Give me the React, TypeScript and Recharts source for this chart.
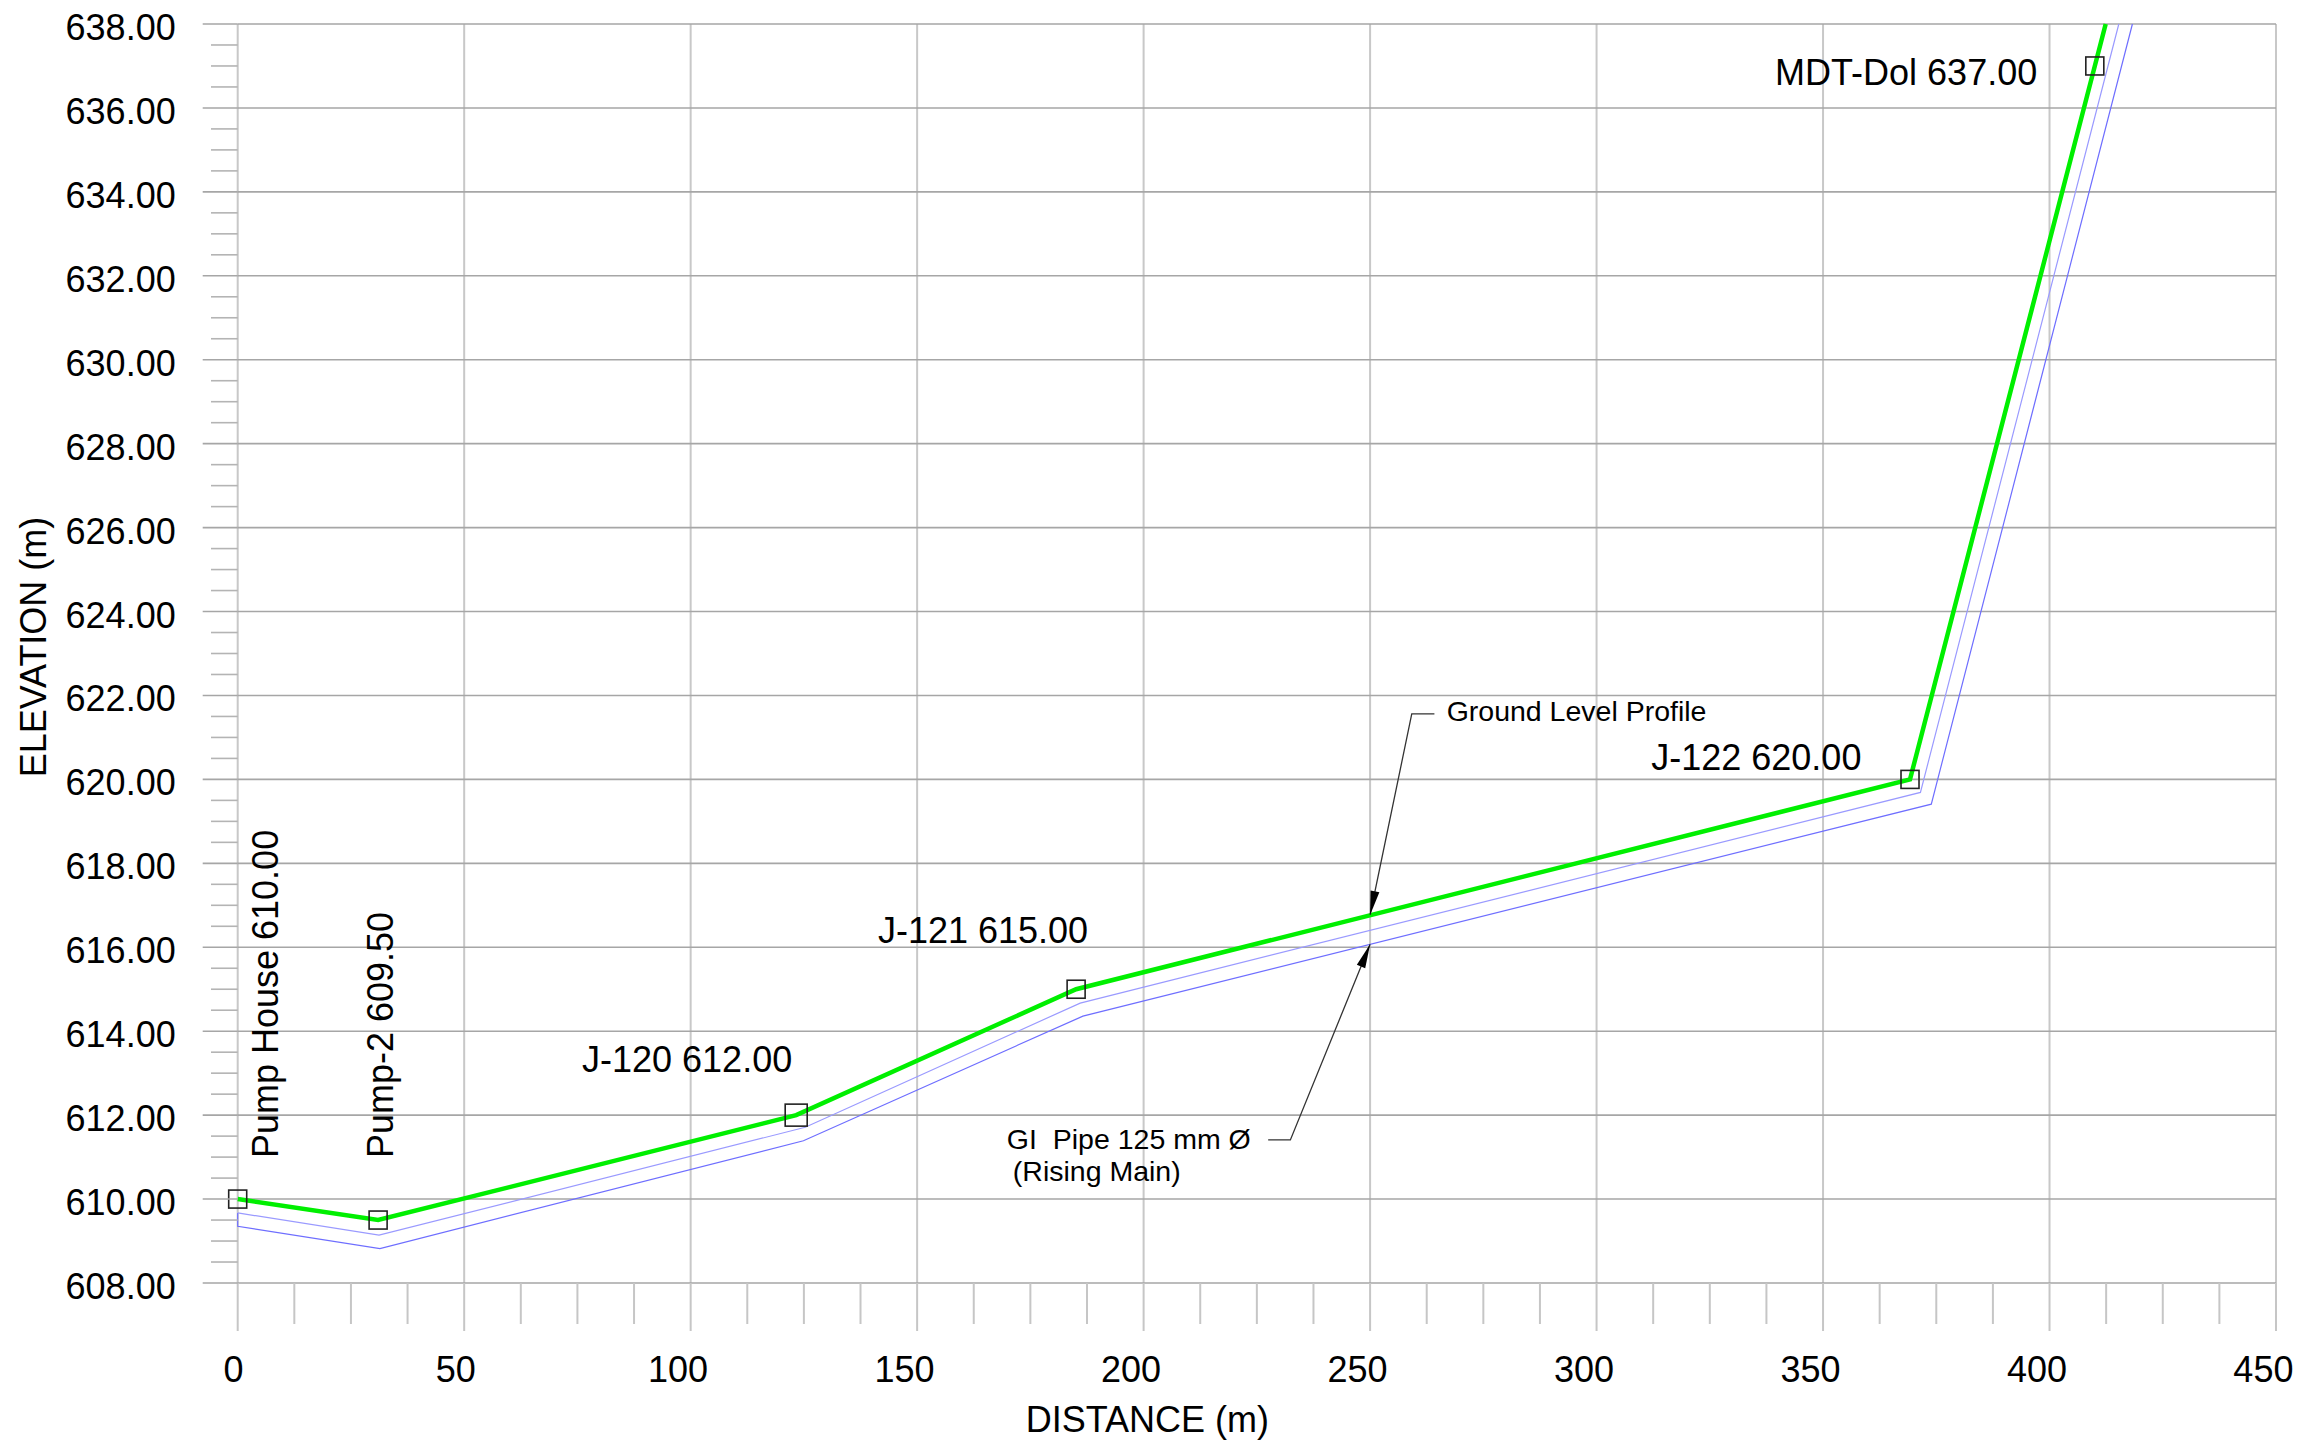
import React from 'react';
import {
  ComposedChart,
  Line,
  XAxis,
  YAxis,
  ReferenceLine,
  Scatter,
  ReferenceDot,
} from 'recharts';

const FONT = '"Liberation Sans", Arial, Helvetica, sans-serif';

// ---------- data ----------
const nodeNames = ['Pump House', 'Pump-2', 'J-120', 'J-121', 'J-122', 'MDT-Dol'];
const nodeDistances = [0, 31, 123.3, 185.1, 369.2, 410.0];
const nodeElevations = [610.0, 609.5, 612.0, 615.0, 620.0, 637.0];

// ground level profile (green), continues past the last node to the top of the chart
const groundDistances = [0, 31, 123.3, 185.1, 369.2, 410.0, 412.4];
const groundElevations = [610.0, 609.5, 612.0, 615.0, 620.0, 637.0, 638.0];

// GI pipe lines (blue)
const pipeTopDistances = [0, 31.2, 125.3, 186.0, 371.5, 415.3];
const pipeTopElevations = [609.67, 609.14, 611.71, 614.67, 619.69, 638.0];
const pipeBottomDistances = [0, 0, 31.4, 124.9, 186.6, 373.9, 418.3];
const pipeBottomElevations = [609.67, 609.35, 608.82, 611.39, 614.36, 619.41, 638.0];

// annotation leaders
const groundLeaderDistances = [264.2, 259.2, 250];
const groundLeaderElevations = [621.56, 621.56, 616.77];
const pipeLeaderDistances = [227.5, 232.4, 250];
const pipeLeaderElevations = [611.41, 611.41, 616.07];

const groundNote = 'Ground Level Profile';
const pipeNoteLines = ['GI  Pipe 125 mm Ø', '(Rising Main)'];

// ticks
const xMajorTicks = [0, 50, 100, 150, 200, 250, 300, 350, 400, 450];
const yMajorTicks = [608, 610, 612, 614, 616, 618, 620, 622, 624, 626, 628, 630, 632, 634, 636, 638];
const xMinorPerMajor = 4;
const yMinorPerMajor = 4;

const xTitle = 'DISTANCE (m)';
const yTitle = 'ELEVATION (m)';

// ---------- derived tables ----------
const toPoints = (xs: number[], ys: number[]) => xs.map((x, i) => ({ x, y: ys[i] }));
const groundData = toPoints(groundDistances, groundElevations);
const pipeTopData = toPoints(pipeTopDistances, pipeTopElevations);
const pipeBottomData = toPoints(pipeBottomDistances, pipeBottomElevations);
const groundLeaderData = toPoints(groundLeaderDistances, groundLeaderElevations);
const pipeLeaderData = toPoints(pipeLeaderDistances, pipeLeaderElevations);
const nodeData = nodeNames.map((name, i) => ({ i, name, x: nodeDistances[i], y: nodeElevations[i] }));

const subdivide = (majors: number[], n: number) => {
  const out: number[] = [];
  for (let k = 0; k < majors.length - 1; k++) {
    const a = majors[k];
    const b = majors[k + 1];
    for (let j = 0; j < n; j++) out.push(a + ((b - a) * j) / n);
  }
  out.push(majors[majors.length - 1]);
  return out;
};
const xAllTicks = subdivide(xMajorTicks, xMinorPerMajor);
const yAllTicks = subdivide(yMajorTicks, yMinorPerMajor);

// ---------- styles ----------
const nodeMarkerSizes = [18, 18, 22, 18, 18, 18];
const labelPlacement = [
  { dx: 40.6, dy: -41, anchor: 'start', rotate: true },
  { dx: 15.3, dy: -62, anchor: 'start', rotate: true },
  { dx: -4, dy: -43.5, anchor: 'end', rotate: false },
  { dx: 12, dy: -46, anchor: 'end', rotate: false },
  { dx: -48.6, dy: -9, anchor: 'end', rotate: false },
  { dx: -57.6, dy: 19.3, anchor: 'end', rotate: false },
];

const XTick = (props: any) => {
  const { x, y, payload } = props;
  const v = payload.value;
  const major = xMajorTicks.includes(v);
  return (
    <g>
      <line x1={x} x2={x} y1={y} y2={y + (major ? 48 : 41)} stroke="#c6c6c6" strokeWidth={2} />
      {major && (
        <text
          x={x - 4.2 * String(v).length}
          y={y + 98.7}
          textAnchor="middle"
          fontSize={36}
          fontFamily={FONT}
          fill="#000"
        >
          {v}
        </text>
      )}
    </g>
  );
};

const YTick = (props: any) => {
  const { x, y, payload } = props;
  const v = payload.value;
  const major = yMajorTicks.includes(v);
  return (
    <g>
      <line
        x1={x - (major ? 35 : 26.7)}
        x2={x}
        y1={y}
        y2={y}
        stroke={major ? '#a6a6a6' : '#b4b4b4'}
        strokeWidth={1.6}
      />
      {major && (
        <text x={x - 62} y={y + 16} textAnchor="end" fontSize={36} fontFamily={FONT} fill="#000">
          {v.toFixed(2)}
        </text>
      )}
    </g>
  );
};

const NodeShape = (props: any) => {
  const { cx, cy, payload } = props;
  if (cx == null || cy == null || !payload) return <g />;
  const i = payload.i;
  const s = nodeMarkerSizes[i];
  const p = labelPlacement[i];
  const text = `${payload.name} ${Number(payload.y).toFixed(2)}`;
  const tx = cx + p.dx;
  const ty = cy + p.dy;
  return (
    <g>
      <rect x={cx - s / 2} y={cy - s / 2} width={s} height={s} fill="none" stroke="#222" strokeWidth={1.6} />
      <text
        x={tx}
        y={ty}
        textAnchor={p.anchor as any}
        transform={p.rotate ? `rotate(-90 ${tx} ${ty})` : undefined}
        fontSize={36}
        fontFamily={FONT}
        fill="#000"
      >
        {text}
      </text>
    </g>
  );
};

const makeArrowDot = (fallbackAngle: number, lastIndex: number) => (props: any) => {
  const { cx, cy, index, points } = props;
  if (index !== lastIndex || cx == null) return <g key={`d${index}`} />;
  let ang = fallbackAngle;
  if (points && points[lastIndex - 1]) {
    const prev = points[lastIndex - 1];
    ang = Math.atan2(cy - prev.y, cx - prev.x);
  }
  const L = 24;
  const W = 4.5;
  const bx = cx - L * Math.cos(ang);
  const by = cy - L * Math.sin(ang);
  const nx = -Math.sin(ang) * W;
  const ny = Math.cos(ang) * W;
  return <path key={`d${index}`} d={`M${cx},${cy} L${bx + nx},${by + ny} L${bx - nx},${by - ny} Z`} fill="#000" />;
};

const GroundNoteShape = (props: any) => {
  const { cx, cy } = props;
  return (
    <text x={cx} y={cy} fontSize={28.5} fontFamily={FONT} fill="#000">
      {groundNote}
    </text>
  );
};

const PipeNoteShape = (props: any) => {
  const { cx, cy } = props;
  return (
    <text x={cx} y={cy} fontSize={28.5} fontFamily={FONT} fill="#000" style={{ whiteSpace: 'pre' }}>
      <tspan x={cx} y={cy}>{pipeNoteLines[0]}</tspan>
      <tspan x={cx + 6} y={cy + 32}>{pipeNoteLines[1]}</tspan>
    </text>
  );
};

const YTitle = (props: any) => {
  const vb = props.viewBox || { x: 0, y: 24, width: 237.7, height: 1259 };
  const x = vb.x + 46;
  const y = vb.y + vb.height / 2 - 6.5;
  return (
    <text x={x} y={y} textAnchor="middle" transform={`rotate(-90 ${x} ${y})`} fontSize={36} fontFamily={FONT} fill="#000">
      {yTitle}
    </text>
  );
};

const XTitle = (props: any) => {
  const vb = props.viewBox || { x: 237.7, y: 1283, width: 2038.3, height: 150 };
  const x = vb.x + vb.width / 2 - 109.5;
  const y = vb.y + 149;
  return (
    <text x={x} y={y} textAnchor="middle" fontSize={36} fontFamily={FONT} fill="#000">
      {xTitle}
    </text>
  );
};

export default function App() {
  return (
    <div style={{ position: 'absolute', left: 0, top: 0, width: 2297, height: 1445, background: '#fff' }}>
      <ComposedChart
        width={2297}
        height={1445}
        margin={{ top: 24, right: 21, left: 0, bottom: 12 }}
        style={{ fontFamily: FONT }}
      >
        <XAxis
          dataKey="x"
          type="number"
          domain={[0, 450]}
          ticks={xAllTicks}
          interval={0}
          tick={<XTick />}
          tickLine={false}
          tickSize={0}
          tickMargin={0}
          axisLine={false}
          height={150}
          label={{ content: <XTitle /> }}
        />
        <YAxis
          dataKey="y"
          type="number"
          domain={[608, 638]}
          ticks={yAllTicks}
          interval={0}
          tick={<YTick />}
          tickLine={false}
          tickSize={0}
          tickMargin={0}
          axisLine={false}
          width={237.7}
          label={{ content: <YTitle /> }}
        />
        {xMajorTicks.map((v) => (
          <ReferenceLine key={`vx${v}`} x={v} stroke="#c8c8c8" strokeWidth={2} />
        ))}
        {yMajorTicks.map((v) => (
          <ReferenceLine key={`hy${v}`} y={v} stroke="#a6a6a6" strokeWidth={1.6} />
        ))}
        <Line
          data={pipeBottomData}
          dataKey="y"
          type="linear"
          stroke="#6e6eff"
          strokeWidth={1.2}
          dot={false}
          isAnimationActive={false}
        />
        <Line
          data={pipeTopData}
          dataKey="y"
          type="linear"
          stroke="#9a9aff"
          strokeWidth={1.2}
          dot={false}
          isAnimationActive={false}
        />
        <Line
          data={groundData}
          dataKey="y"
          type="linear"
          stroke="#00ef00"
          strokeWidth={4.5}
          dot={false}
          isAnimationActive={false}
        />
        <Line
          data={groundLeaderData}
          dataKey="y"
          type="linear"
          stroke="#333"
          strokeWidth={1.3}
          dot={makeArrowDot(Math.atan2(198, -41.9), groundLeaderData.length - 1)}
          isAnimationActive={false}
        />
        <Line
          data={pipeLeaderData}
          dataKey="y"
          type="linear"
          stroke="#333"
          strokeWidth={1.3}
          dot={makeArrowDot(Math.atan2(-195.6, 79.7), pipeLeaderData.length - 1)}
          isAnimationActive={false}
        />
        <Scatter data={nodeData} dataKey="y" shape={<NodeShape />} isAnimationActive={false} />
        <ReferenceDot x={266.9} y={621.38} r={0} shape={<GroundNoteShape />} />
        <ReferenceDot x={169.8} y={611.2} r={0} shape={<PipeNoteShape />} />
      </ComposedChart>
    </div>
  );
}
